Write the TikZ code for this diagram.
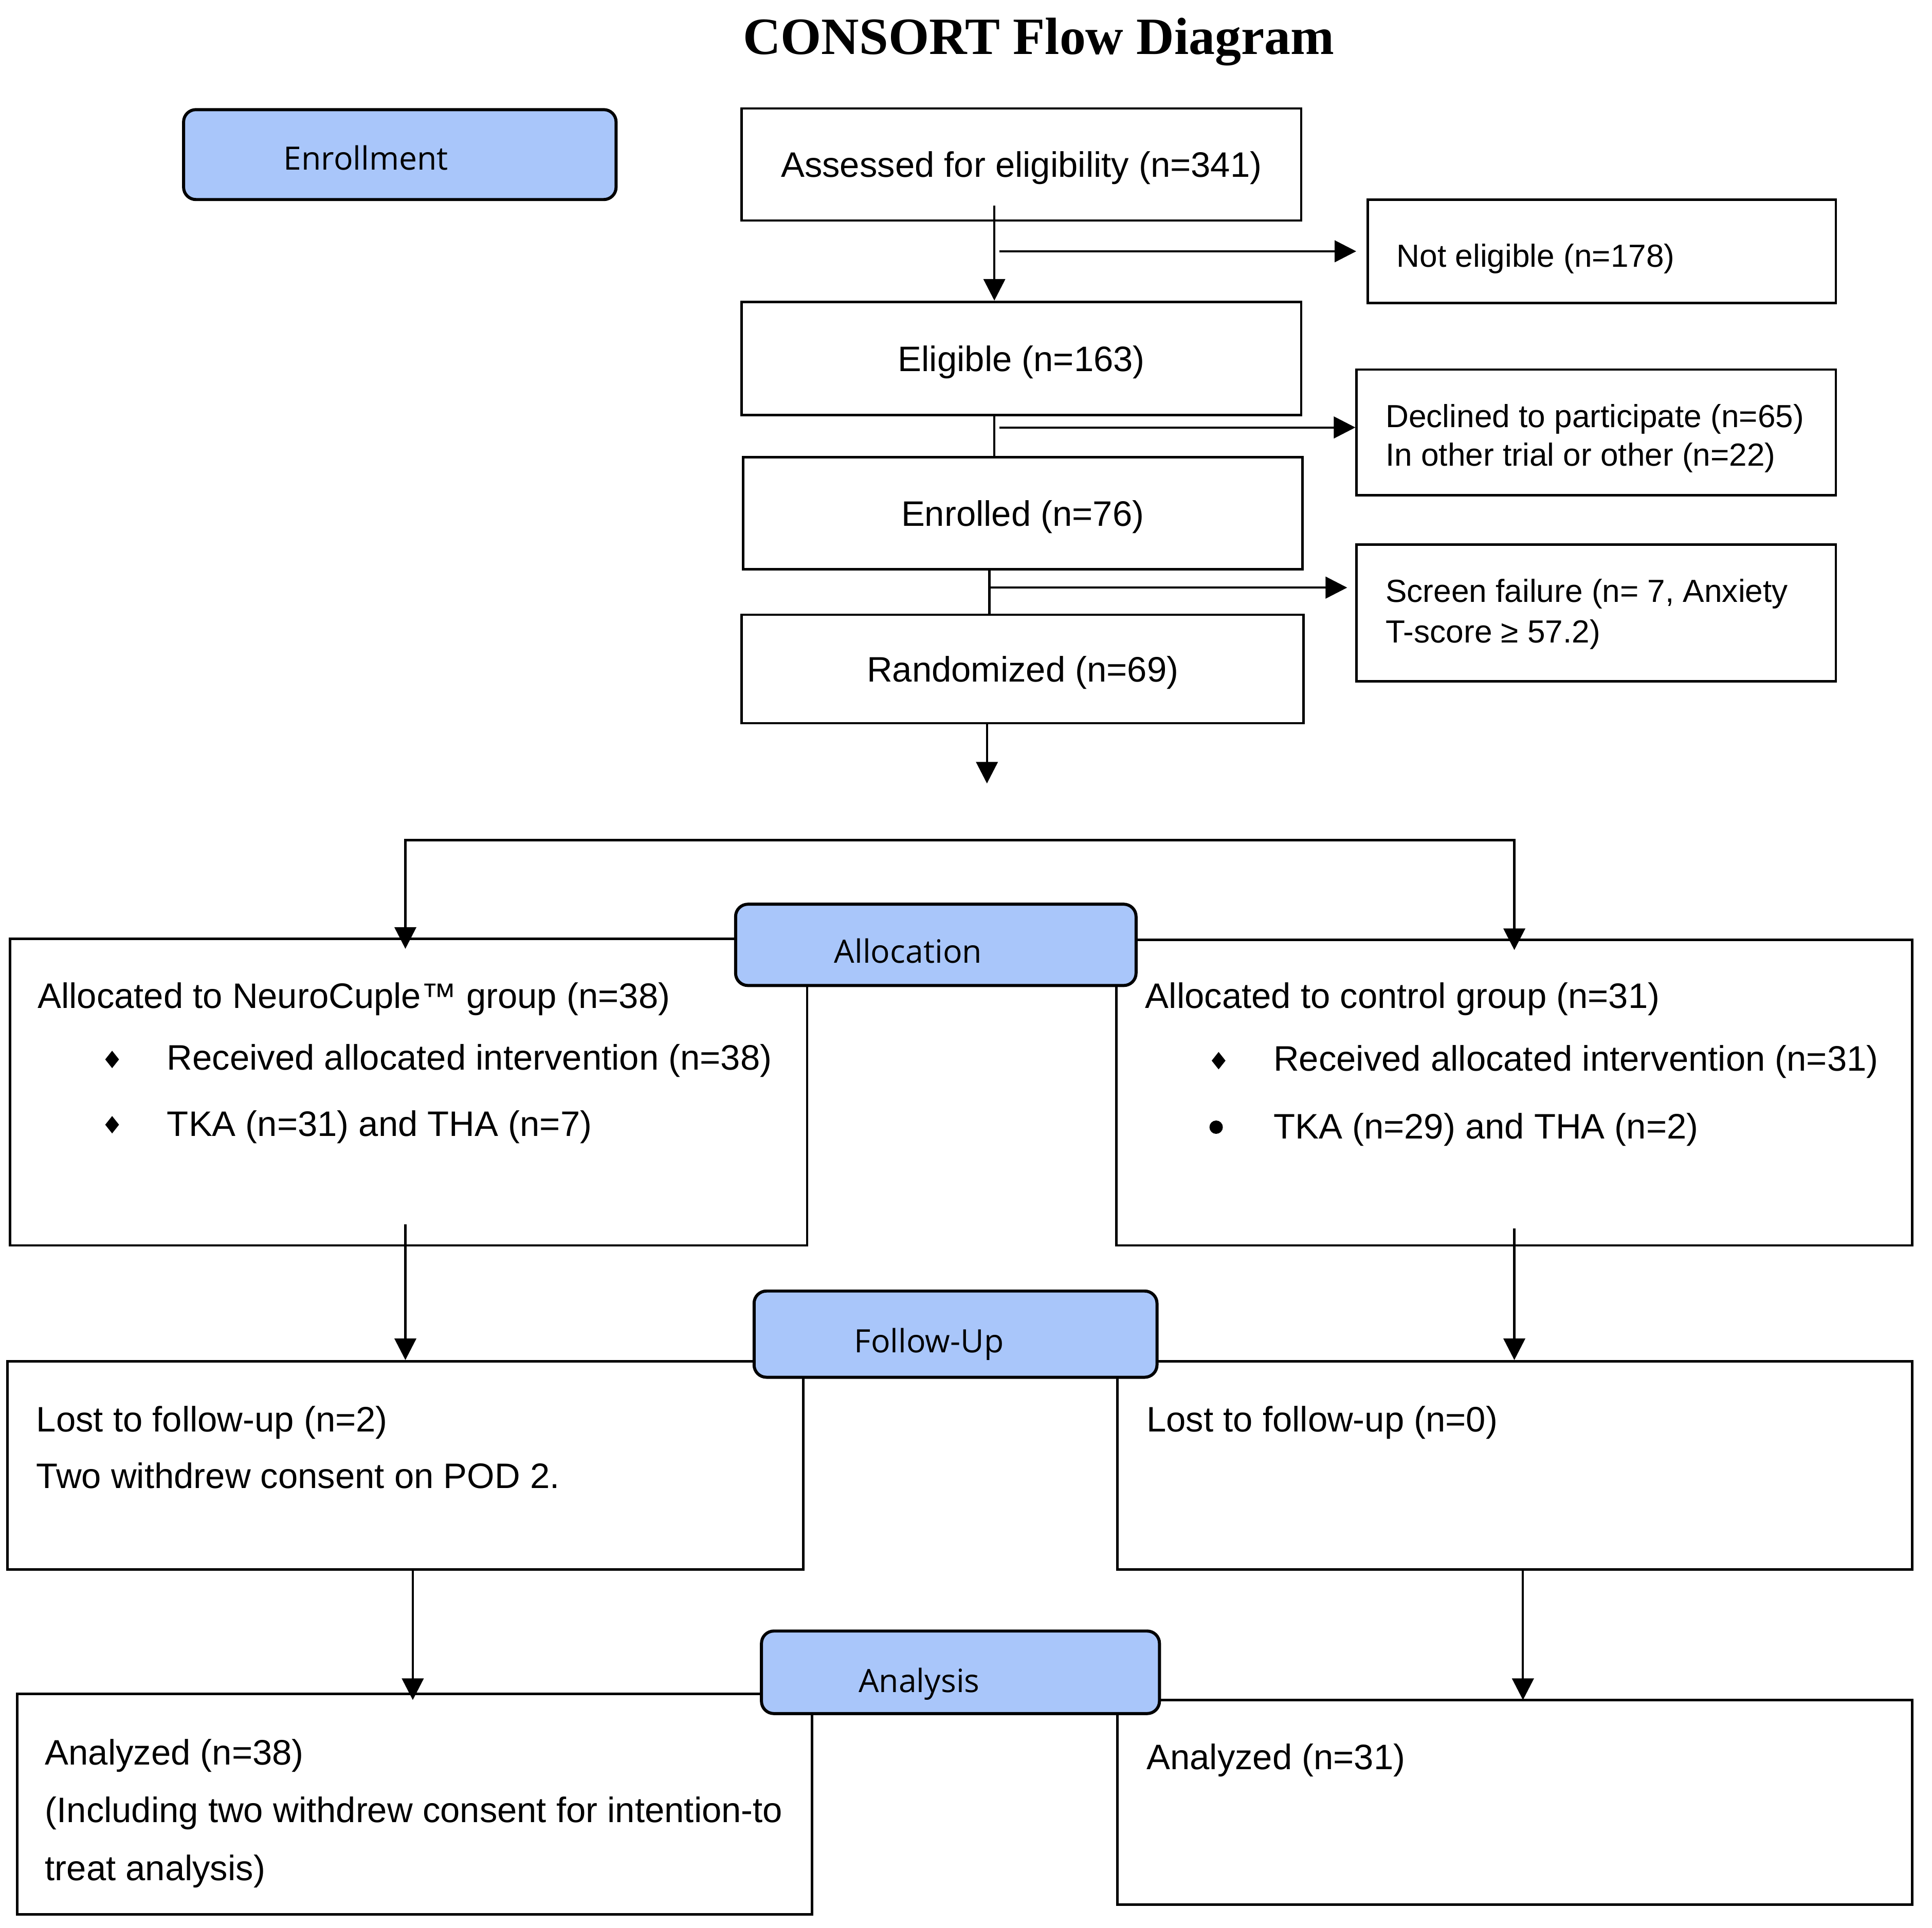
\documentclass[tikz,border=0pt]{standalone}
\usepackage{fontspec}
\setmainfont{Liberation Sans}
\newfontfamily\stagefont{Open Sans}
\newfontfamily\headfont{Liberation Serif}
\usetikzlibrary{arrows.meta,shapes.geometric}
\definecolor{stageblue}{RGB}{169,198,250}

\begin{document}
\begin{tikzpicture}[
    x=0.012cm,y=-0.012cm,
	dims/.style 2 args={minimum width=#1*0.012cm, minimum height=#2*0.012cm},
	box/.style={draw, line width=0.67pt, inner sep=0, text height=0.3cm, text depth=0.05cm, font=\fontsize{9.8}{10.6}\selectfont},
	stage/.style={draw, line width=0.85pt, fill=stageblue, rounded corners=0.12cm, inner sep=0},
	stagetxt/.style={font=\stagefont\fontsize{8.9}{10}\selectfont, inner sep=0},
	txt/.style={font=\fontsize{9.8}{10.6}\selectfont, inner sep=0, anchor=west, align=left},
	side/.style={txt, font=\fontsize{8.85}{10.7}\selectfont},
	line/.style={line width=0.6pt},
	arr/.style={line width=0.6pt, -{Triangle[length=0.21cm,width=0.21cm]}},
	arrs/.style={line width=0.6pt, {Triangle[length=0.21cm,width=0.21cm]}-{Triangle[length=0.21cm,width=0.21cm]}},
	diam/.style={diamond, fill, inner sep=0, minimum width=0.14cm, minimum height=0.175cm},
	disc/.style={circle, fill, inner sep=0, minimum size=0.13cm}
]
\useasboundingbox (0,0) rectangle (1568,1565);

\node[font=\headfont\bfseries\fontsize{14.5}{16}\selectfont, inner sep=0] (title) at (843,34) {CONSORT Flow Diagram};

% enrollment
\node[stage, dims={351}{73}] (enroll) at (324.5,125.5) {};
\node[stagetxt] (enrollt) at (297,128) {Enrollment};

\node[box, dims={454}{91}] (assess) at (829,133.5) {Assessed for eligibility (n=341)};
\node[box, dims={380}{84}] (noelig) at (1300,204) {};
\node[side] (noeligt) at (1133,210) {Not eligible (n=178)};
\node[box, dims={454}{92}] (elig) at (829,291) {Eligible (n=163)};
\node[box, dims={389}{102}] (decl) at (1295.5,351) {};
\node[side] (declt) at (1124,356) {Declined to participate (n=65)\\In other trial or other (n=22)};
\node[box, dims={454}{91}] (enrol) at (830,416.5) {Enrolled (n=76)};
\node[box, dims={389}{111}] (scr) at (1295.5,497.5) {};
\node[side, font=\fontsize{8.85}{11.2}\selectfont] (scrt) at (1124,498.5) {Screen failure (n= 7, Anxiety\\T-score ≥ 57.2)};
\node[box, dims={456}{88}] (rand) at (830,543) {Randomized (n=69)};

\coordinate (c1) at (807,167);
\coordinate (c2) at (811,204);
\coordinate (c3) at (811,347);
\coordinate (c4) at (803,477);
\coordinate (c5) at (801,636);
\draw[arr] (c1) -- (c1 |- elig.north);
\draw[arr] (c2) -- ([xshift=-0.1cm]noelig.west);
\draw[line] (c1 |- elig.south) -- (c1 |- enrol.north);
\draw[arr] (c3) -- (c3 -| decl.west);
\draw[line] (c4 |- enrol.south) -- (c4 |- rand.north);
\draw[arr] (c4) -- ([xshift=-0.08cm]c4 -| scr.west);
\draw[arr] (c5 |- rand.south) -- (c5);

% allocation
\node[box, dims={647}{249}] (grp1) at (331.5,886.5) {};
\node[box, dims={646}{248}] (grp2) at (1229,887) {};
\node[txt] (grp1t) at (30,811) {Allocated to NeuroCuple™ group (n=38)};
\node[diam] (d11) at (91,860) {};
\node[txt] (grp1a) at (135,861) {Received allocated intervention (n=38)};
\node[diam] (d12) at (91,913) {};
\node[txt] (grp1b) at (135,915) {TKA (n=31) and THA (n=7)};
\node[txt] (grp2t) at (929,811) {Allocated to control group (n=31)};
\node[diam] (d21) at (989,861) {};
\node[txt] (grp2a) at (1033,862) {Received allocated intervention (n=31)};
\node[disc] (d22) at (987,915) {};
\node[txt] (grp2b) at (1033,917) {TKA (n=29) and THA (n=2)};

\coordinate (sl) at (329,682);
\coordinate (sr) at (1229,682);
\draw[arrs] ([yshift=-0.11cm]sl |- grp1.north) |- (sr) -- ([yshift=-0.11cm]sr |- grp2.north);

\node[stage, dims={325}{66}] (alloc) at (759.5,767) {};
\node[stagetxt] (alloct) at (737,772) {Allocation};

% follow-up
\node[box, dims={646}{169}] (fup1) at (329,1189.5) {};
\node[box, dims={645}{169}] (fup2) at (1229.5,1189.5) {};
\node[txt, font=\fontsize{9.8}{15.7}\selectfont] (fup1t) at (29,1175) {Lost to follow-up (n=2)\\Two withdrew consent on POD 2.};
\node[txt] (fup2t) at (930,1155) {Lost to follow-up (n=0)};

\coordinate (c6) at (329,994);
\coordinate (c7) at (1229,997);
\draw[arr] (c6) -- (c6 |- fup1.north);
\draw[arr] (c7) -- (c7 |- fup2.north);

\node[stage, dims={327}{70}] (follow) at (775.5,1083) {};
\node[stagetxt] (followt) at (754,1091) {Follow-Up};

% analysis
\node[box, dims={645}{179}] (ana1) at (336.5,1464.5) {};
\node[box, dims={645}{166}] (ana2) at (1229.5,1463) {};
\node[txt, font=\fontsize{9.8}{16.05}\selectfont] (ana1t) at (36,1472) {Analyzed (n=38)\\(Including two withdrew consent for intention-to\\treat analysis)};
\node[txt] (ana2t) at (930,1429) {Analyzed (n=31)};

\coordinate (c8) at (335,1380);
\coordinate (c9) at (1236,1380);
\draw[arr] (c8 |- fup1.south) -- (c8);
\draw[arr] (c9 |- fup2.south) -- (c9);

\node[stage, dims={323}{67}] (analysis) at (779.5,1357.5) {};
\node[stagetxt] (analysist) at (746,1367) {Analysis};
\end{tikzpicture}
\end{document}
